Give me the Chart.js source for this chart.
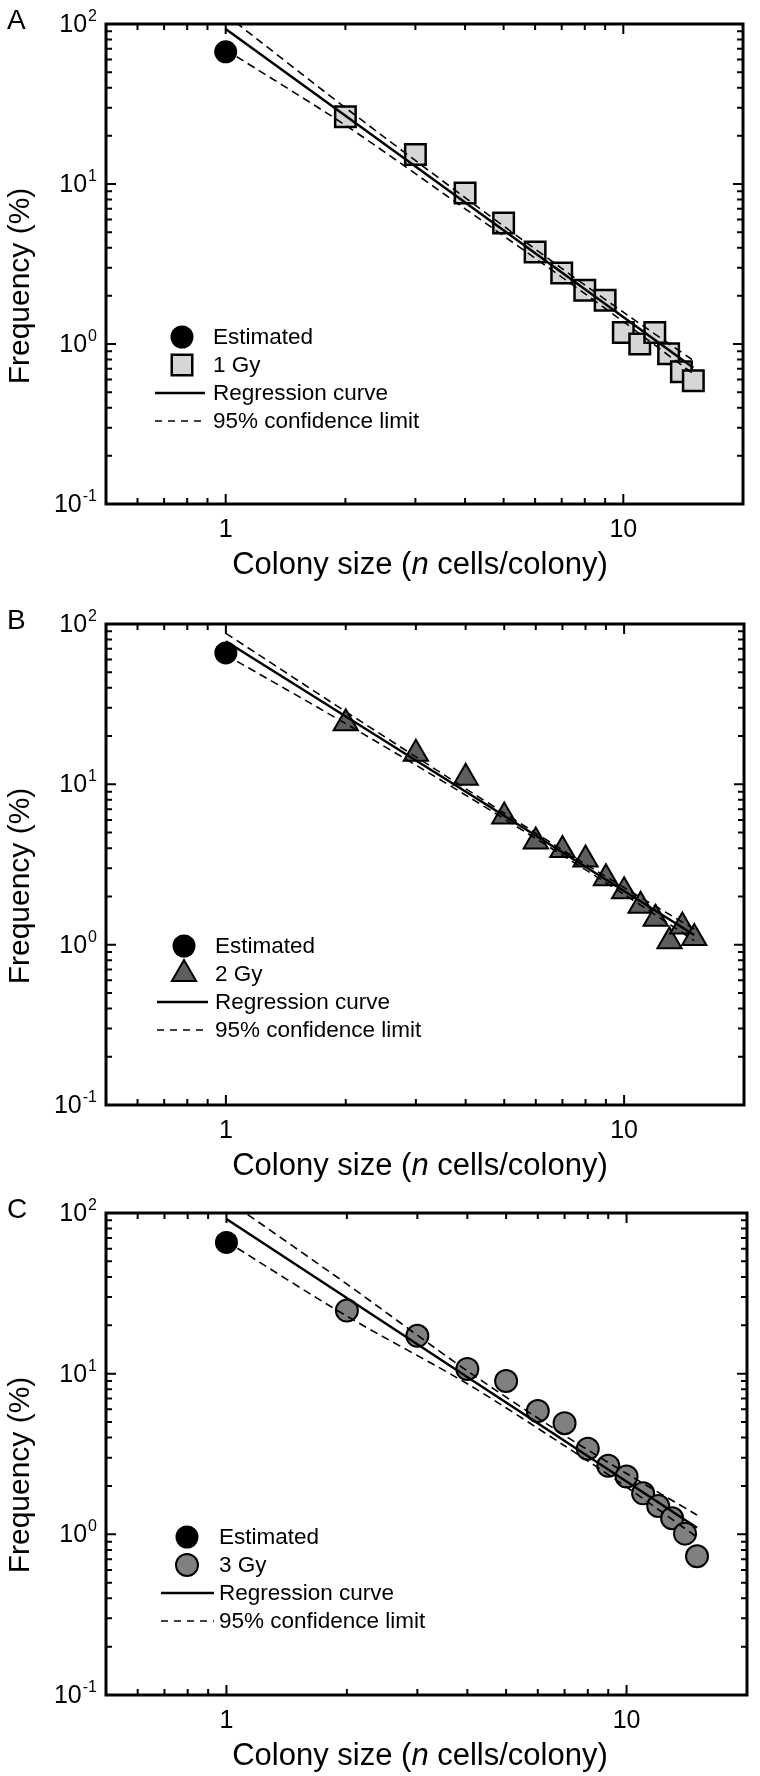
<!DOCTYPE html>
<html>
<head>
<meta charset="utf-8">
<script src="https://cdn.jsdelivr.net/npm/chart.js@4.4.0/dist/chart.umd.min.js"></script>
<style>
  html, body { margin: 0; padding: 0; background: #fff; }
  #wrap { position: relative; width: 760px; height: 1776px; overflow: hidden; }
  canvas { position: absolute; left: 0; }
</style>
</head>
<body>
<div id="wrap">
  <canvas id="cA" width="760" height="600" style="top:0px;width:760px;height:600px"></canvas>
  <canvas id="cB" width="760" height="589" style="top:600px;width:760px;height:589px"></canvas>
  <canvas id="cC" width="760" height="587" style="top:1189px;width:760px;height:587px"></canvas>
</div>
<script>
// ---------------- data ----------------
const colonySizes = [2, 3, 4, 5, 6, 7, 8, 9, 10, 11, 12, 13, 14, 15];
const freq1Gy = [26.3, 15.3, 8.8, 5.7, 3.76, 2.78, 2.17, 1.88, 1.18, 1.0, 1.18, 0.87, 0.67, 0.59];
const freq2Gy = [24.0, 15.5, 11.0, 6.3, 4.4, 3.9, 3.4, 2.6, 2.15, 1.75, 1.45, 1.05, 1.3, 1.1];
const freq3Gy = [24.7, 17.2, 10.7, 9.0, 5.86, 4.92, 3.41, 2.67, 2.29, 1.80, 1.50, 1.26, 1.01, 0.73];

const estimatedX = [1];
const estimatedA = [67];
const estimatedB = [66];
const estimatedC = [65.6];

const regressionX = [1, 15];
const regressionA = [93, 0.71];
const regressionB = [78, 1.15];
const regressionC = [91.8, 1.1];

const confX = [1, 2, 4, 7, 10, 15];
const confUpperA = [114.5, 30.0, 8.22, 2.97, 1.58, 0.79];
const confLowerA = [69.0, 23.3, 7.0, 2.62, 1.38, 0.65];
const confUpperB = [87.5, 28.4, 9.4, 3.9, 2.27, 1.25];
const confLowerB = [64.1, 23.9, 8.57, 3.61, 2.06, 1.06];
const confUpperC = [121, 36.1, 10.4, 4.13, 2.39, 1.32];
const confLowerC = [66.5, 22.8, 8.65, 3.56, 1.97, 0.96];

const xMajorTicks = [1, 10];
const xTickLabels = ['1', '10'];
const xMinorTicks = [0.6, 0.7, 0.8, 0.9, 2, 3, 4, 5, 6, 7, 8, 9];
const yMajorTicks = [100, 10, 1, 0.1];
const yTickBase = ['10', '10', '10', '10'];
const yTickExponents = ['2', '1', '0', '-1'];
const yMinorTicks = [0.2, 0.3, 0.4, 0.5, 0.6, 0.7, 0.8, 0.9, 2, 3, 4, 5, 6, 7, 8, 9, 20, 30, 40, 50, 60, 70, 80, 90];

const legendLabels = ['Estimated', null, 'Regression curve', '95% confidence limit'];
const seriesNames = ['1 Gy', '2 Gy', '3 Gy'];
const panelLetters = ['A', 'B', 'C'];
const xTitleParts = ['Colony size (', 'n', ' cells/colony)'];
const yTitle = 'Frequency (%)';

// ---------------- helpers ----------------
const FONT = "'Liberation Sans', Arial, Helvetica, sans-serif";
const pts = (xs, ys) => xs.map((x, i) => ({x: x, y: ys[i]}));

function drawPanelDecor(chart, o) {
  const ctx = chart.ctx;
  const a = chart.chartArea;
  const xs = chart.scales.x, ys = chart.scales.y;
  ctx.save();
  ctx.strokeStyle = '#000';
  ctx.fillStyle = '#000';
  ctx.lineCap = 'butt';
  // ticks (inside, on all four sides)
  ctx.lineWidth = 2;
  const vTick = (v, len) => {
    const px = xs.getPixelForValue(v);
    ctx.beginPath();
    ctx.moveTo(px, a.bottom); ctx.lineTo(px, a.bottom - len);
    ctx.moveTo(px, a.top); ctx.lineTo(px, a.top + len);
    ctx.stroke();
  };
  const hTick = (v, len) => {
    const py = ys.getPixelForValue(v);
    ctx.beginPath();
    ctx.moveTo(a.left, py); ctx.lineTo(a.left + len, py);
    ctx.moveTo(a.right, py); ctx.lineTo(a.right - len, py);
    ctx.stroke();
  };
  xMinorTicks.forEach(v => vTick(v, 6));
  xMajorTicks.forEach(v => vTick(v, 10));
  yMinorTicks.forEach(v => hTick(v, 6));
  yMajorTicks.forEach(v => hTick(v, 10));
  // frame
  ctx.lineWidth = 3;
  ctx.strokeRect(a.left, a.top, a.right - a.left, a.bottom - a.top);

  // x tick labels
  ctx.font = '25px ' + FONT;
  ctx.textAlign = 'center';
  ctx.textBaseline = 'alphabetic';
  xMajorTicks.forEach((v, i) => {
    ctx.fillText(xTickLabels[i], xs.getPixelForValue(v), a.bottom + 33);
  });
  // y tick labels (10 with superscript exponent)
  yMajorTicks.forEach((v, i) => {
    const py = ys.getPixelForValue(v);
    ctx.textAlign = 'right';
    ctx.font = '16px ' + FONT;
    const sup = yTickExponents[i];
    const sw = ctx.measureText(sup).width;
    ctx.fillText(sup, 97, py - 3);
    ctx.font = '25px ' + FONT;
    ctx.fillText(yTickBase[i], 97 - sw - 1, py + 8);
  });
  // x title with italic n
  ctx.textAlign = 'left';
  const fN = '31px ' + FONT, fI = 'italic 31px ' + FONT;
  ctx.font = fN; const w0 = ctx.measureText(xTitleParts[0]).width;
  ctx.font = fI; const w1 = ctx.measureText(xTitleParts[1]).width;
  ctx.font = fN; const w2 = ctx.measureText(xTitleParts[2]).width;
  let tx = 420 - (w0 + w1 + w2) / 2;
  const ty = a.bottom + 70;
  ctx.font = fN; ctx.fillText(xTitleParts[0], tx, ty); tx += w0;
  ctx.font = fI; ctx.fillText(xTitleParts[1], tx, ty); tx += w1;
  ctx.font = fN; ctx.fillText(xTitleParts[2], tx, ty);
  // y title
  ctx.save();
  ctx.translate(29, a.top + 262);
  ctx.rotate(-Math.PI / 2);
  ctx.font = '30px ' + FONT;
  ctx.textAlign = 'center';
  ctx.fillText(yTitle, 0, 0);
  ctx.restore();
  // panel letter
  ctx.font = '28px ' + FONT;
  ctx.textAlign = 'left';
  ctx.fillText(o.letter, 7, a.top + 5);

  // legend
  const L = o.legend;
  const rows = [L.y, L.y + 28, L.y + 56, L.y + 84];
  ctx.font = '22.5px ' + FONT;
  ctx.textBaseline = 'middle';
  ctx.textAlign = 'left';
  // estimated
  ctx.fillStyle = '#000';
  Chart.helpers.drawPoint(ctx, {pointStyle: 'circle', radius: 11.5, borderWidth: 0, rotation: 0}, L.mx, rows[0]);
  ctx.fillStyle = '#000';
  ctx.fillText(legendLabels[0], L.tx, rows[0] + 1);
  // series marker
  ctx.fillStyle = o.fill;
  ctx.strokeStyle = '#000';
  ctx.lineWidth = o.bw;
  Chart.helpers.drawPoint(ctx, {pointStyle: o.style, radius: o.r, borderWidth: o.bw, rotation: 0}, L.mx, rows[1]);
  ctx.fillStyle = '#000';
  ctx.fillText(o.name, L.tx, rows[1] + 1);
  // regression line sample
  ctx.lineWidth = 2.5;
  ctx.beginPath(); ctx.moveTo(L.lx0, rows[2]); ctx.lineTo(L.lx1, rows[2]); ctx.stroke();
  ctx.fillText(legendLabels[2], L.tx, rows[2] + 1);
  // dashed sample
  ctx.lineWidth = 1.3;
  ctx.setLineDash([7, 6]);
  ctx.beginPath(); ctx.moveTo(L.lx0, rows[3]); ctx.lineTo(L.lx1, rows[3]); ctx.stroke();
  ctx.setLineDash([]);
  ctx.fillText(legendLabels[3], L.tx, rows[3] + 1);
  ctx.restore();
}

function makePanel(id, H, bottomRel, o) {
  const datasets = [
    {label: 'Regression curve', data: pts(regressionX, o.reg), showLine: true,
     borderColor: '#000', borderWidth: 2.5, pointRadius: 0, order: 0},
    {label: '95% upper', data: pts(confX, o.up), showLine: true, borderColor: '#000',
     borderWidth: 1.6, borderDash: [8, 5], pointRadius: 0, order: 1, tension: 0.3},
    {label: '95% lower', data: pts(confX, o.lo), showLine: true, borderColor: '#000',
     borderWidth: 1.6, borderDash: [8, 5], pointRadius: 0, order: 2, tension: 0.3},
    {label: o.name, data: pts(colonySizes, o.vals), showLine: false,
     pointStyle: o.style, pointRadius: o.r, pointBackgroundColor: o.fill,
     pointBorderColor: '#000', pointBorderWidth: o.bw, order: 3},
    {label: 'Estimated', data: pts(estimatedX, o.est), showLine: false,
     pointStyle: 'circle', pointRadius: 11.5, pointBackgroundColor: '#000',
     pointBorderColor: '#000', pointBorderWidth: 0, order: 4}
  ];
  new Chart(document.getElementById(id), {
    type: 'scatter',
    data: {datasets},
    options: {
      responsive: false,
      animation: false,
      events: [],
      layout: {padding: {left: 106, right: 6, top: 24, bottom: H - bottomRel}},
      scales: {
        x: {type: 'logarithmic', min: 0.5, max: 20, display: false},
        y: {type: 'logarithmic', min: 0.1, max: 100, display: false}
      },
      plugins: {legend: {display: false}, tooltip: {enabled: false}}
    },
    plugins: [{id: 'decor', afterDatasetsDraw(chart) { drawPanelDecor(chart, o); }}]
  });
}

makePanel('cA', 600, 504, {
  letter: panelLetters[0], name: seriesNames[0], vals: freq1Gy, est: estimatedA,
  reg: regressionA, up: confUpperA, lo: confLowerA,
  style: 'rect', r: 14.5, fill: '#d6d6d6', bw: 2.5,
  legend: {y: 337, mx: 182, tx: 213, lx0: 155, lx1: 205}
});
makePanel('cB', 589, 505, {
  letter: panelLetters[1], name: seriesNames[1], vals: freq2Gy, est: estimatedB,
  reg: regressionB, up: confUpperB, lo: confLowerB,
  style: 'triangle', r: 14, fill: '#5e5e5e', bw: 2,
  legend: {y: 346, mx: 184, tx: 215, lx0: 157, lx1: 208}
});
makePanel('cC', 587, 506, {
  letter: panelLetters[2], name: seriesNames[2], vals: freq3Gy, est: estimatedC,
  reg: regressionC, up: confUpperC, lo: confLowerC,
  style: 'circle', r: 11, fill: '#808080', bw: 2,
  legend: {y: 348, mx: 187, tx: 219, lx0: 161, lx1: 214}
});
</script>
</body>
</html>
